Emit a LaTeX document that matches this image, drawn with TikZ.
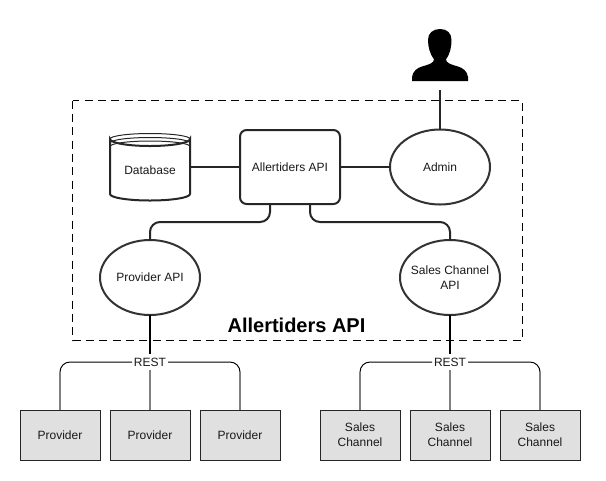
\documentclass[tikz,border=0pt]{standalone}
\usepackage{fontspec}
\setmainfont{Liberation Sans}
\usetikzlibrary{shapes.geometric}
\begin{document}
\begin{tikzpicture}[x=0.75pt,y=-0.75pt,
  every node/.style={font=\fontsize{9}{11.2}\selectfont,align=center,inner sep=0pt,outer sep=0pt,text=black!90},
  heavy/.style={line width=1.5pt,draw=black!85},
  thin line/.style={line width=0.75pt,draw=black},
  drop/.style={line width=1.5pt,draw=black!50},
  soft corners/.style={rounded corners=7.5pt},
  oval/.style={ellipse,draw=black!80,line width=1.5pt,fill=white,inner sep=-14pt,minimum width=75pt,minimum height=56.25pt},
  apibox/.style={draw=black!85,line width=1.5pt,fill=white,rounded corners=5pt,minimum width=75pt,minimum height=55.5pt},
  leaf/.style={draw=black!85,line width=0.75pt,fill=black!12,minimum width=60pt,minimum height=37.5pt}]
\useasboundingbox (0,0) rectangle (606,480);
\fill[white] (0,0) rectangle (606,480);

% boundary
\draw[line width=0.75pt,dash pattern=on 6pt off 4pt] (72.5,100.5) rectangle (522.5,340.5);
\node[font=\fontsize{15}{17}\selectfont\bfseries,text=black] (title) at (296.5,325.5) {Allertiders API};

% person
\fill[black] (412,81) -- (412,77) .. controls (413,71) and (417,68) .. (422,66.5)
  .. controls (429,64.5) and (434,63) .. (434,59.5)
  .. controls (430,54) and (428,47) .. (428,40)
  .. controls (428,33) and (433,29) .. (440,29)
  .. controls (447,29) and (451.5,33) .. (451.5,40)
  .. controls (451.5,47) and (450,54) .. (446,59.5)
  .. controls (446,63) and (451,64.5) .. (458,66.5)
  .. controls (463,68) and (467,71) .. (468,77) -- (468,81) -- cycle;
\coordinate (user) at (440,90);

% main shapes
\node[apibox] (core) at (290,167) {Allertiders API};
\node[oval] (admin) at (440,167) {Admin};
\node[oval] (prov) at (150,277.5) {Provider API};
\node[oval] (sales) at (450,277.5) {Sales Channel\\API};

% database
\draw[line width=1.5pt,draw=black!85,fill=white] (110,139) arc[start angle=180,end angle=0,x radius=40,y radius=7]
  -- (190,194) arc[start angle=0,end angle=180,x radius=40,y radius=6.5] -- cycle;
\draw[line width=0.75pt,draw=black!85] (110,139) arc[start angle=180,end angle=360,x radius=40,y radius=5.5]
  (110,143) arc[start angle=180,end angle=360,x radius=40,y radius=5.5]
  (110,146.5) arc[start angle=180,end angle=360,x radius=40,y radius=5.5];
\node[minimum width=60pt,minimum height=51pt] (db) at (150,167) {};
\node (dblabel) at (150,170) {Database};

% upper connectors
\draw[heavy] (db.east) -- (core.west);
\draw[heavy] (core.east) -- (admin.west);
\draw[heavy] (user) -- (admin.north);
\coordinate (coreL) at (270,204);
\coordinate (coreR) at (310,204);
\draw[heavy,soft corners] (coreL) -- (270,222) -- (150,222) -- (prov.north);
\draw[heavy,soft corners] (coreR) -- (310,222) -- (450,222) -- (sales.north);

% provider group
\node[leaf] (p1) at (60,435) {Provider};
\node[leaf] (p2) at (150,435) {Provider};
\node[leaf] (p3) at (240,435) {Provider};
\node[fill=white,minimum width=27pt,minimum height=12pt] (restL) at (150,362) {REST};
\draw[heavy,draw=black] (prov.south) -- (restL.north);
\draw[thin line,rounded corners=7.5pt] (restL.west) -- (60,362) -- (p1.north);
\draw[thin line,rounded corners=7.5pt] (restL.east) -- (240,362) -- (p3.north);
\draw[drop] (p1.north) -- ++(0,-38);
\draw[drop] (p3.north) -- ++(0,-38);
\draw[drop] (restL.south) -- (p2.north);

% sales group
\node[leaf] (s1) at (360,435) {Sales\\Channel};
\node[leaf] (s2) at (450,435) {Sales\\Channel};
\node[leaf] (s3) at (540,435) {Sales\\Channel};
\node[fill=white,minimum width=27pt,minimum height=12pt] (restR) at (450,362) {REST};
\draw[heavy,draw=black] (sales.south) -- (restR.north);
\draw[thin line,rounded corners=7.5pt] (restR.west) -- (360,362) -- (s1.north);
\draw[thin line,rounded corners=7.5pt] (restR.east) -- (540,362) -- (s3.north);
\draw[drop] (s1.north) -- ++(0,-38);
\draw[drop] (s3.north) -- ++(0,-38);
\draw[drop] (restR.south) -- (s2.north);
\end{tikzpicture}
\end{document}
